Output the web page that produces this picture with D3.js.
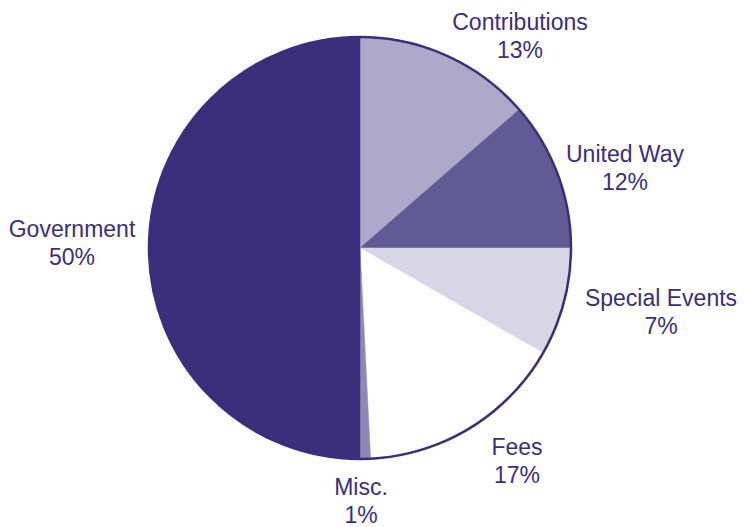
<!DOCTYPE html>
<html>
<head>
<meta charset="utf-8">
<script src="https://cdn.jsdelivr.net/npm/d3@7/dist/d3.min.js"></script>
<style>
  html, body { margin: 0; padding: 0; background: #ffffff; }
  svg { display: block; }
</style>
</head>
<body>
<svg id="chart" width="744" height="527"></svg>
<script>
// ---- data ----
const categories = ["Contributions", "United Way", "Special Events", "Fees", "Misc.", "Government"];
// slice shares as drawn
const shares = [13.6, 11.4, 8.3, 15.9, 0.8, 50.0];
// percentage labels as printed
const percentLabels = ["13%", "12%", "7%", "17%", "1%", "50%"];

// ---- styling / layout (not data) ----
const colors = ["#aea9cb", "#625a95", "#d9d6e7", "#ffffff", "#8f88b6", "#3b2e7a"];
const textColor = "#3b2e7a";
const W = 744, H = 527;
const cx = 360, cy = 248, R = 211;
// label anchors relative to the pie centre (first line baseline)
const labelOffsets = [
  [160, -218], [265, -86], [301, 58], [157, 207], [1, 247], [-288, -11]
];

const svg = d3.select("#chart");
const g = svg.append("g").attr("transform", `translate(${cx},${cy})`);

const pie = d3.pie().sort(null).value(d => d).startAngle(0).endAngle(2 * Math.PI);
const arcs = pie(shares);
const arc = d3.arc().innerRadius(0).outerRadius(R);

g.selectAll("path.slice")
  .data(arcs)
  .join("path")
  .attr("class", "slice")
  .attr("d", arc)
  .attr("fill", (d, i) => colors[i])
  .attr("stroke", (d, i) => colors[i])
  .attr("stroke-width", 0.5);

// outer rim
g.append("circle")
  .attr("r", R)
  .attr("fill", "none")
  .attr("stroke", textColor)
  .attr("stroke-width", 2.5);

// labels
const lab = g.selectAll("text.lab")
  .data(categories)
  .join("text")
  .attr("class", "lab")
  .attr("text-anchor", "middle")
  .attr("font-family", "Liberation Sans, Arial, Helvetica, sans-serif")
  .attr("font-size", 23)
  .attr("fill", textColor)
  .attr("transform", (d, i) => `translate(${labelOffsets[i][0]},${labelOffsets[i][1]})`);

lab.append("tspan").attr("x", 0).attr("y", 0).text(d => d);
lab.append("tspan").attr("x", 0).attr("y", 28).text((d, i) => percentLabels[i]);
</script>
</body>
</html>
